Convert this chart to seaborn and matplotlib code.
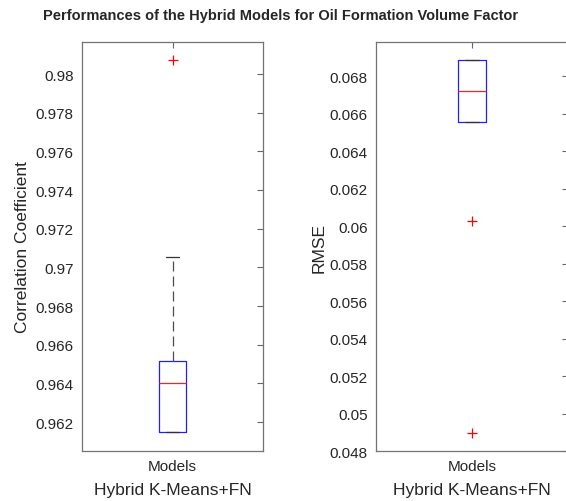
import pandas as pd
import seaborn as sns
import matplotlib.pyplot as plt

# Values (sorted runs per metric)
model = "Models"
corr_values = [0.96148, 0.96148, 0.96148, 0.9628, 0.96402, 0.9646, 0.96514, 0.97055, 0.98072]
rmse_values = [0.04898, 0.06029, 0.06557, 0.0664, 0.06723, 0.0680, 0.06887, 0.06887, 0.06887]

corr_ticks = [0.962, 0.964, 0.966, 0.968, 0.97, 0.972, 0.974, 0.976, 0.978, 0.98]
corr_ticklabels = ["0.962", "0.964", "0.966", "0.968", "0.97", "0.972", "0.974", "0.976", "0.978", "0.98"]
rmse_ticks = [0.048, 0.05, 0.052, 0.054, 0.056, 0.058, 0.06, 0.062, 0.064, 0.066, 0.068]
rmse_ticklabels = ["0.048", "0.05", "0.052", "0.054", "0.056", "0.058", "0.06", "0.062", "0.064", "0.066", "0.068"]

df_corr = pd.DataFrame({"Model": [model] * len(corr_values), "Value": corr_values})
df_rmse = pd.DataFrame({"Model": [model] * len(rmse_values), "Value": rmse_values})

sns.set_style("white")
plt.rcParams["font.family"] = ["Liberation Sans", "DejaVu Sans"]

fig = plt.figure(figsize=(5.66, 5.02), dpi=100)
ax1 = fig.add_axes([0.1449, 0.0996, 0.3198, 0.8147])
ax2 = fig.add_axes([0.6643, 0.0996, 0.3392, 0.8147])

box_kws = dict(
    width=0.15, fill=False, whis=1.5, linewidth=0.9,
    boxprops=dict(color="#2020ff"),
    medianprops=dict(color="#ff2020"),
    whiskerprops=dict(color="0.3", linestyle=(0, (8, 4))),
    capprops=dict(color="0.2"),
    flierprops=dict(marker="+", markeredgecolor="red", markersize=6.5, markeredgewidth=0.9),
)

sns.boxplot(data=df_corr, x="Model", y="Value", ax=ax1, **box_kws)
sns.boxplot(data=df_rmse, x="Model", y="Value", ax=ax2, **box_kws)

ax1.set_ylim(0.9605, 0.98166)
ax1.set_yticks(corr_ticks)
ax1.set_yticklabels(corr_ticklabels)
ax1.set_ylabel("Correlation Coefficient", fontsize=12.5, color="0.15")

ax2.set_ylim(0.048, 0.06983)
ax2.set_yticks(rmse_ticks)
ax2.set_yticklabels(rmse_ticklabels)
ax2.set_ylabel("RMSE", fontsize=12.5, color="0.15", labelpad=2)

for ax in (ax1, ax2):
    ax.set_xlim(-0.5, 0.5)
    ax.set_xlabel("Hybrid K-Means+FN", fontsize=12.5, color="0.15", labelpad=6)
    ax.tick_params(axis="both", direction="in", length=4, color="0.4",
                   labelsize=11, labelcolor="0.15", top=True, right=True, pad=6)
    for s in ax.spines.values():
        s.set_visible(True)
        s.set_color("0.45")
        s.set_linewidth(0.9)

fig.suptitle("Performances of the Hybrid Models for Oil Formation Volume Factor",
             x=0.495, y=0.982, fontsize=10.5, fontweight="bold")

fig.savefig("out.png", dpi=100)
